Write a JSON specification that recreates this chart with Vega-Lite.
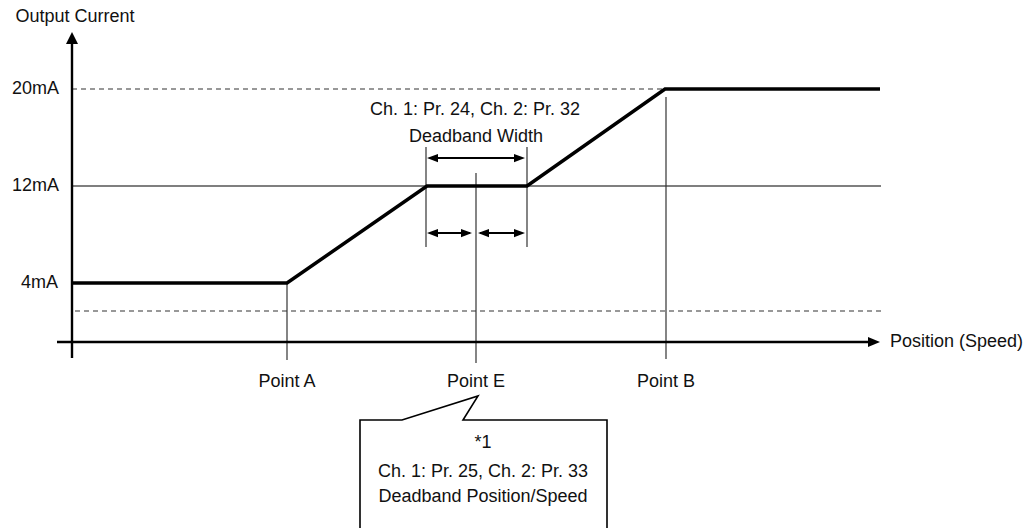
{
  "$schema": "https://vega.github.io/schema/vega-lite/v6.json",
  "width": 1035,
  "height": 528,
  "padding": 0,
  "autosize": {"type": "none"},
  "background": "white",
  "config": {"view": {"stroke": null}, "text": {"font": "Liberation Sans", "fontSize": 18, "color": "#111"}},
  "datasets": {
    "level": [
      {"x": 0, "y": 156, "x2": 809, "y2": 156}
    ],
    "thin": [
      {"x": 215, "y": 59, "x2": 215, "y2": -18},
      {"x": 404, "y": 169, "x2": 404, "y2": -21},
      {"x": 594, "y": 245, "x2": 594, "y2": -17},
      {"x": 354, "y": 195, "x2": 354, "y2": 95},
      {"x": 455, "y": 195, "x2": 455, "y2": 95}
    ],
    "dashed": [
      {"x": 0, "y": 253, "x2": 593, "y2": 253},
      {"x": 3, "y": 31, "x2": 809, "y2": 31}
    ],
    "axes": [
      {"x": 0, "y": -16, "x2": 0, "y2": 305},
      {"x": -15, "y": 0, "x2": 802, "y2": 0}
    ],
    "output": [
      {"i": 1, "x": 0, "y": 59},
      {"i": 2, "x": 215, "y": 59},
      {"i": 3, "x": 355, "y": 156},
      {"i": 4, "x": 455, "y": 156},
      {"i": 5, "x": 593, "y": 253},
      {"i": 6, "x": 808, "y": 253}
    ],
    "shafts": [
      {"x": 358, "y": 184, "x2": 450, "y2": 184},
      {"x": 358, "y": 109, "x2": 398, "y2": 109},
      {"x": 408, "y": 109, "x2": 450, "y2": 109}
    ],
    "heads": [
      {"x": 360.5, "y": 184, "dir": "left"},
      {"x": 447.5, "y": 184, "dir": "right"},
      {"x": 360.5, "y": 109, "dir": "left"},
      {"x": 394.5, "y": 109, "dir": "right"},
      {"x": 411.5, "y": 109, "dir": "left"},
      {"x": 447.5, "y": 109, "dir": "right"}
    ],
    "axisHeads": [
      {"x": 0, "y": 304, "dir": "up"},
      {"x": 802, "y": 0, "dir": "right"}
    ],
    "callout": [
      {"i": 1, "x": 535, "y": -190},
      {"i": 2, "x": 535, "y": -78},
      {"i": 3, "x": 391, "y": -78},
      {"i": 4, "x": 406, "y": -54},
      {"i": 5, "x": 330, "y": -78},
      {"i": 6, "x": 288, "y": -78},
      {"i": 7, "x": 288, "y": -190}
    ],
    "labels": [
      {"x": 3, "y": 325, "label": "Output Current", "pos": "center"},
      {"x": -13, "y": 253, "label": "20mA", "pos": "right"},
      {"x": -13, "y": 156, "label": "12mA", "pos": "right"},
      {"x": -14, "y": 59, "label": "4mA", "pos": "right"},
      {"x": 818, "y": 0, "label": "Position (Speed)", "pos": "left"},
      {"x": 215, "y": -40, "label": "Point A", "pos": "center"},
      {"x": 404, "y": -40, "label": "Point E", "pos": "center"},
      {"x": 594, "y": -40, "label": "Point B", "pos": "center"},
      {"x": 403, "y": 232, "label": "Ch. 1: Pr. 24, Ch. 2: Pr. 32", "pos": "center"},
      {"x": 404, "y": 205, "label": "Deadband Width", "pos": "center"},
      {"x": 411, "y": -101, "label": "*1", "pos": "center"},
      {"x": 411, "y": -130, "label": "Ch. 1: Pr. 25, Ch. 2: Pr. 33", "pos": "center"},
      {"x": 411, "y": -155, "label": "Deadband Position/Speed", "pos": "center"}
    ]
  },
  "encoding": {
    "x": {"field": "x", "type": "quantitative", "scale": {"domain": [-72, 963], "nice": false, "zero": false}, "axis": null},
    "y": {"field": "y", "type": "quantitative", "scale": {"domain": [-186, 342], "nice": false, "zero": false}, "axis": null}
  },
  "layer": [
    {
      "data": {"name": "level"},
      "mark": {"type": "rule", "color": "black", "strokeWidth": 1.2},
      "encoding": {"x2": {"field": "x2"}, "y2": {"field": "y2"}}
    },
    {
      "data": {"name": "thin"},
      "mark": {"type": "rule", "color": "#333", "strokeWidth": 1.2},
      "encoding": {"x2": {"field": "x2"}, "y2": {"field": "y2"}}
    },
    {
      "data": {"name": "dashed"},
      "mark": {"type": "rule", "color": "#333", "strokeWidth": 1.2, "strokeDash": [5, 4]},
      "encoding": {"x2": {"field": "x2"}, "y2": {"field": "y2"}}
    },
    {
      "data": {"name": "axes"},
      "mark": {"type": "rule", "color": "black", "strokeWidth": 2.4},
      "encoding": {"x2": {"field": "x2"}, "y2": {"field": "y2"}}
    },
    {
      "data": {"name": "output"},
      "mark": {"type": "line", "color": "black", "strokeWidth": 3.5, "strokeJoin": "miter"},
      "encoding": {"order": {"field": "i", "type": "quantitative"}}
    },
    {
      "data": {"name": "shafts"},
      "mark": {"type": "rule", "color": "black", "strokeWidth": 2},
      "encoding": {"x2": {"field": "x2"}, "y2": {"field": "y2"}}
    },
    {
      "data": {"name": "heads"},
      "transform": [{"filter": "datum.dir === 'left'"}],
      "mark": {"type": "point", "shape": "M1,-0.75L-1,0L1,0.75Z", "filled": true, "size": 121, "color": "black", "opacity": 1}
    },
    {
      "data": {"name": "heads"},
      "transform": [{"filter": "datum.dir === 'right'"}],
      "mark": {"type": "point", "shape": "M-1,-0.75L1,0L-1,0.75Z", "filled": true, "size": 121, "color": "black", "opacity": 1}
    },
    {
      "data": {"name": "axisHeads"},
      "transform": [{"filter": "datum.dir === 'up'"}],
      "mark": {"type": "point", "shape": "M-1,1L0,-1L1,1Z", "filled": true, "size": 144, "color": "black", "opacity": 1}
    },
    {
      "data": {"name": "axisHeads"},
      "transform": [{"filter": "datum.dir === 'right'"}],
      "mark": {"type": "point", "shape": "M-1,-0.85L1,0L-1,0.85Z", "filled": true, "size": 144, "color": "black", "opacity": 1}
    },
    {
      "data": {"name": "callout"},
      "mark": {"type": "line", "color": "black", "strokeWidth": 1.6, "strokeJoin": "miter"},
      "encoding": {"order": {"field": "i", "type": "quantitative"}}
    },
    {
      "data": {"name": "labels"},
      "transform": [{"filter": "datum.pos === 'center'"}],
      "mark": {"type": "text", "align": "center", "baseline": "middle"},
      "encoding": {"text": {"field": "label"}}
    },
    {
      "data": {"name": "labels"},
      "transform": [{"filter": "datum.pos === 'right'"}],
      "mark": {"type": "text", "align": "right", "baseline": "middle"},
      "encoding": {"text": {"field": "label"}}
    },
    {
      "data": {"name": "labels"},
      "transform": [{"filter": "datum.pos === 'left'"}],
      "mark": {"type": "text", "align": "left", "baseline": "middle"},
      "encoding": {"text": {"field": "label"}}
    }
  ]
}
